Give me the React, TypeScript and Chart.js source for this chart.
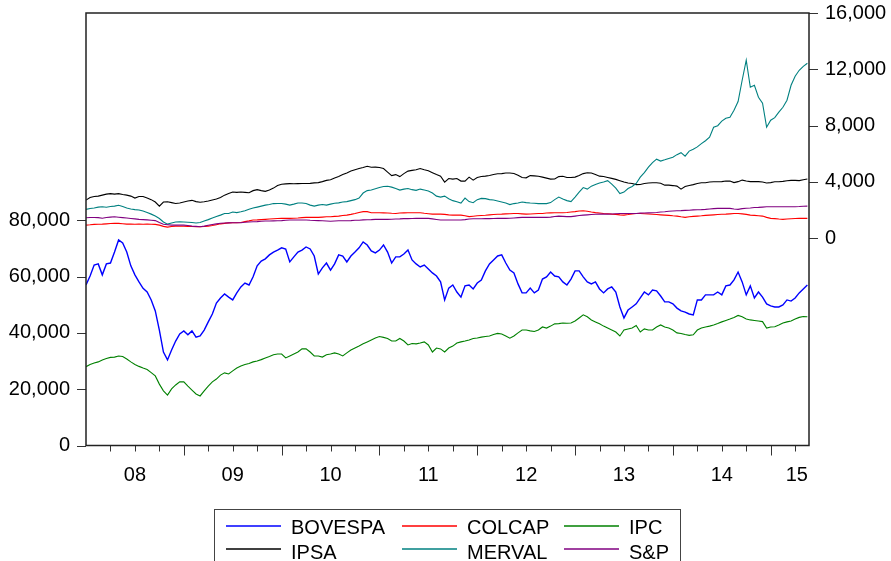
import React, { useEffect, useRef } from 'react';
import { Chart, registerables } from 'chart.js';

Chart.register(...registerables);

const FONT = "'Liberation Sans', Arial, Helvetica, sans-serif";

// Semi-monthly observation grid, expressed in months since January 2008
const periods: number[] = Array.from({ length: 178 }, (_, k) => k / 2);

// Year labels on the time axis and the month at which each one is centred
const yearLabels = ['08', '09', '10', '11', '12', '13', '14', '15'];
const yearLabelMonths = [6, 18, 30, 42, 54, 66, 78, 87.2];

const leftTicks = [0, 20000, 40000, 60000, 80000];
const rightTicks = [0, 4000, 8000, 12000, 16000];

// Left axis series
const bovespa = [
  57000, 60200, 64100, 64500, 60600, 64500, 64800, 68700, 73000, 71900,
  68700, 63800, 60600, 58100, 55800, 54500, 51700, 47800, 41000, 33200,
  30400, 33900, 37100, 39600, 40700, 39300, 40700, 38500, 38900, 41000,
  43900, 46700, 50600, 52400, 53800, 52700, 51700, 54200, 56300, 57700,
  57000, 59900, 63800, 65500, 66300, 67700, 68700, 69400, 70200, 69800,
  65200, 67000, 68700, 69400, 70500, 69800, 67300, 60900, 63100, 64800,
  62300, 64500, 67700, 67300, 65200, 67300, 68700, 70200, 72300, 71200,
  69100, 68400, 69400, 71200, 68700, 64800, 67000, 67000, 68000, 69400,
  65900, 64500, 63400, 64100, 62700, 61300, 60200, 58100, 51700, 55900,
  57000, 54500, 52700, 56700, 57000, 55600, 57700, 58800, 62000, 64500,
  65900, 67300, 67700, 64800, 62300, 61300, 57400, 54200, 54200, 55900,
  54200, 55200, 59100, 59900, 61600, 60200, 59900, 58100, 57000, 59100,
  62000, 62000, 59900, 58100, 57400, 58100, 55600, 54200, 55600, 56300,
  54500, 49200, 45300, 48100, 49200, 50300, 52400, 54500, 53500, 55200,
  54900, 53100, 51000, 51000, 50300, 48800, 47800, 47400, 46700, 46400,
  51700, 51700, 53500, 53500, 53500, 54500, 53500, 56700, 57000, 58800,
  61600, 58100, 53500, 56700, 52400, 54500, 52700, 50300, 49600, 49200,
  49200, 49900, 51700, 51300, 52400, 54200, 55600, 57000,
];

const ipc = [
  28000, 28800, 29300, 29700, 30400, 30900, 31300, 31400, 31800, 31600,
  30700, 29700, 28800, 28100, 27500, 27000, 25900, 24700, 21800, 19400,
  17900, 20100, 21500, 22600, 22600, 21100, 19700, 18300, 17600, 19400,
  21100, 22600, 23600, 25000, 25800, 25400, 26500, 27500, 28200, 28800,
  29100, 29700, 30000, 30500, 31100, 31600, 32200, 32500, 32500, 31100,
  31800, 32500, 33200, 34300, 34300, 33200, 31800, 31800, 31400, 32200,
  32500, 32900, 32500, 31800, 32900, 33900, 34600, 35300, 36100, 36800,
  37500, 38200, 38700, 38400, 38000, 37100, 37100, 38000, 37100, 35700,
  36200, 36100, 36400, 36800, 35700, 33200, 34600, 34300, 33200, 34600,
  35300, 36400, 36800, 37100, 37500, 38000, 38200, 38500, 38700, 38900,
  39400, 39800, 39600, 38900, 38100, 38900, 40000, 41000, 41000, 40700,
  40500, 41000, 42100, 41700, 42400, 43200, 43300, 43500, 43400, 43500,
  44200, 45300, 46400, 45700, 44600, 43900, 43200, 42400, 41700, 41000,
  40300, 38900, 41000, 41400, 41700, 42600, 40300, 41400, 41000, 41000,
  42100, 42800, 42100, 41700, 41000, 40000, 39800, 39400, 39100, 39300,
  41000, 41700, 42100, 42400, 42800, 43300, 43900, 44400, 44900, 45500,
  46200, 45700, 44900, 44600, 44400, 44200, 44000, 41700, 42100, 42200,
  42800, 43500, 43900, 44200, 44900, 45500, 45800, 45700,
];

// Right axis series
const colcap = [
  920, 940, 970, 980, 990, 1010, 1030, 1040, 1040, 1020,
  990, 990, 980, 990, 980, 990, 980, 970, 920, 830,
  780, 820, 850, 840, 840, 830, 820, 810, 800, 820,
  850, 890, 950, 1010, 1040, 1080, 1090, 1090, 1110, 1170,
  1220, 1280, 1290, 1310, 1330, 1350, 1370, 1390, 1400, 1400,
  1400, 1410, 1420, 1450, 1470, 1470, 1470, 1470, 1490, 1510,
  1510, 1540, 1560, 1600, 1630, 1680, 1740, 1810, 1880, 1880,
  1800, 1800, 1800, 1790, 1780, 1760, 1750, 1780, 1790, 1800,
  1800, 1800, 1800, 1760, 1730, 1700, 1700, 1700, 1680, 1650,
  1630, 1630, 1630, 1580, 1520, 1550, 1580, 1600, 1620, 1650,
  1670, 1690, 1700, 1720, 1730, 1750, 1740, 1720, 1700, 1710,
  1730, 1750, 1750, 1780, 1790, 1800, 1800, 1800, 1820, 1850,
  1880, 1920, 1940, 1900, 1850, 1810, 1780, 1750, 1730, 1700,
  1680, 1650, 1630, 1670, 1720, 1750, 1740, 1730, 1710, 1690,
  1670, 1650, 1630, 1610, 1580, 1560, 1510, 1470, 1510, 1540,
  1560, 1580, 1610, 1630, 1650, 1670, 1690, 1700, 1720, 1740,
  1750, 1720, 1680, 1630, 1610, 1590, 1560, 1470, 1400, 1380,
  1350, 1330, 1350, 1370, 1390, 1400, 1400, 1400,
];

const ipsa = [
  2700, 2880, 2950, 2980, 3050, 3120, 3160, 3120, 3160, 3090,
  3050, 2980, 2840, 2950, 2950, 2840, 2730, 2560, 2270, 2560,
  2580, 2520, 2460, 2490, 2560, 2630, 2680, 2590, 2540, 2580,
  2630, 2700, 2770, 2880, 3050, 3170, 3270, 3250, 3270, 3250,
  3220, 3370, 3440, 3370, 3320, 3410, 3550, 3730, 3830, 3850,
  3870, 3860, 3870, 3880, 3880, 3890, 3920, 3940, 4010, 4100,
  4150, 4270, 4370, 4510, 4630, 4760, 4860, 4950, 5010, 5100,
  5030, 5040, 5010, 4940, 4690, 4440, 4510, 4370, 4580, 4760,
  4810, 4860, 4940, 4860, 4790, 4650, 4510, 4400, 3980, 4230,
  4190, 4230, 4050, 4050, 4330, 4120, 4300, 4370, 4400, 4450,
  4520, 4570, 4580, 4620, 4620, 4590, 4470, 4300, 4280, 4440,
  4420, 4390, 4330, 4260, 4190, 4200, 4370, 4390, 4300, 4300,
  4330, 4440, 4580, 4640, 4620, 4510, 4400, 4370, 4310, 4240,
  4170, 4080, 3980, 3910, 3880, 3800, 3810, 3880, 3910, 3930,
  3930, 3890, 3760, 3760, 3730, 3690, 3480, 3660, 3730, 3800,
  3880, 3930, 3930, 3980, 4000, 4000, 4010, 4050, 4060, 3940,
  4010, 4120, 4050, 4010, 4010, 4010, 3980, 3910, 3940, 4000,
  4000, 4030, 4070, 4100, 4100, 4080, 4150, 4200,
];

const merval = [
  2040, 2100, 2140, 2200, 2220, 2190, 2240, 2270, 2330, 2240,
  2130, 2070, 2020, 1990, 1920, 1810, 1700, 1560, 1390, 1140,
  990, 1070, 1140, 1160, 1140, 1120, 1100, 1070, 1100, 1210,
  1310, 1420, 1530, 1630, 1740, 1750, 1850, 1810, 1870, 1940,
  2050, 2130, 2200, 2270, 2340, 2390, 2450, 2460, 2460, 2410,
  2340, 2410, 2490, 2490, 2460, 2340, 2270, 2340, 2380, 2340,
  2410, 2470, 2500, 2560, 2590, 2660, 2730, 2840, 3200, 3370,
  3410, 3500, 3590, 3660, 3680, 3620, 3520, 3410, 3480, 3520,
  3440, 3390, 3480, 3410, 3340, 3200, 2980, 2910, 2980, 2800,
  2660, 2580, 2490, 2840, 2590, 2510, 2730, 2820, 2800, 2730,
  2700, 2630, 2560, 2490, 2380, 2450, 2490, 2560, 2520, 2490,
  2470, 2450, 2450, 2450, 2520, 2730, 2910, 2770, 2660, 2590,
  2910, 3270, 3590, 3480, 3690, 3800, 3910, 3980, 4080, 3830,
  3550, 3160, 3270, 3520, 3670, 3880, 4330, 4650, 5040, 5360,
  5610, 5470, 5560, 5660, 5750, 5930, 6070, 5820, 6180, 6320,
  6480, 6710, 6920, 7170, 7880, 7990, 8310, 8520, 8590, 9090,
  9700, 11220, 12640, 10720, 10860, 10010, 9590, 7880, 8380, 8560,
  8950, 9300, 9800, 10860, 11500, 11930, 12210, 12430,
];

const sp = [
  1440, 1460, 1460, 1450, 1410, 1460, 1490, 1510, 1480, 1450,
  1420, 1390, 1360, 1330, 1310, 1290, 1270, 1240, 1100, 980,
  950, 920, 920, 920, 920, 890, 850, 830, 800, 850,
  910, 960, 1010, 1050, 1070, 1080, 1090, 1090, 1090, 1120,
  1140, 1160, 1170, 1190, 1210, 1210, 1220, 1230, 1240, 1260,
  1280, 1280, 1280, 1280, 1280, 1260, 1250, 1240, 1230, 1210,
  1190, 1210, 1230, 1230, 1230, 1240, 1260, 1270, 1290, 1300,
  1310, 1330, 1330, 1330, 1330, 1340, 1350, 1360, 1380, 1380,
  1390, 1400, 1400, 1400, 1400, 1360, 1320, 1280, 1280, 1280,
  1280, 1280, 1280, 1310, 1350, 1370, 1370, 1370, 1380, 1380,
  1390, 1400, 1400, 1400, 1410, 1430, 1450, 1470, 1470, 1470,
  1470, 1470, 1470, 1470, 1490, 1530, 1560, 1540, 1520, 1520,
  1560, 1600, 1630, 1650, 1670, 1690, 1700, 1700, 1700, 1710,
  1730, 1740, 1750, 1750, 1750, 1750, 1770, 1780, 1790, 1800,
  1820, 1850, 1870, 1900, 1920, 1940, 1950, 1970, 1980, 2000,
  2010, 2020, 2040, 2070, 2090, 2110, 2110, 2110, 2110, 2070,
  2040, 2090, 2120, 2140, 2170, 2180, 2200, 2220, 2220, 2220,
  2220, 2220, 2220, 2220, 2230, 2240, 2260, 2270,
];

const seriesNames = ['BOVESPA', 'COLCAP', 'IPC', 'IPSA', 'MERVAL', 'S&P'];
const seriesColors = ['#0000ff', '#ff0000', '#008000', '#000000', '#008080', '#800080'];
const seriesValues = [bovespa, colcap, ipc, ipsa, merval, sp];
const seriesAxis = ['y', 'y1', 'y', 'y1', 'y1', 'y1'];

const fmt = (v: number) => v.toLocaleString('en-US');

// Outer frame, tick marks and the boxed legend under the plot
const frameAndLegend = {
  id: 'frameAndLegend',
  afterDraw(chart: any) {
    const { ctx, chartArea: a, scales } = chart;
    const xs = scales.x;
    const yl = scales.y;
    const yr = scales.y1;
    ctx.save();

    ctx.strokeStyle = '#333';
    ctx.lineWidth = 1;
    ctx.beginPath();
    for (let m = 3; m < xs.max; m += 3) {
      const px = Math.round(xs.getPixelForValue(m)) + 0.5;
      const len = m % 12 === 0 ? 10 : 6;
      ctx.moveTo(px, a.bottom);
      ctx.lineTo(px, a.bottom + len);
    }
    leftTicks.forEach((v) => {
      const py = Math.round(yl.getPixelForValue(v)) + 0.5;
      ctx.moveTo(a.left - 9, py);
      ctx.lineTo(a.left, py);
    });
    rightTicks.forEach((v) => {
      const py = Math.round(yr.getPixelForValue(v)) + 0.5;
      ctx.moveTo(a.right, py);
      ctx.lineTo(a.right + 9, py);
    });
    ctx.stroke();

    ctx.strokeStyle = '#222';
    ctx.lineWidth = 1.5;
    ctx.strokeRect(a.left, a.top, a.right - a.left, a.bottom - a.top);

    // legend box, centred under the plot
    const boxLeft = 214.5;
    const boxTop = 509.5;
    const boxRight = a.left + a.right - boxLeft;
    ctx.strokeStyle = '#444';
    ctx.lineWidth = 1;
    ctx.strokeRect(boxLeft, boxTop, boxRight - boxLeft, 80);

    const colX = [226, 402, 564];
    const lineY = [526, 549];
    const baseY = [533.5, 558.5];
    ctx.font = `20px ${FONT}`;
    ctx.textBaseline = 'alphabetic';
    ctx.textAlign = 'left';
    seriesNames.forEach((name, i) => {
      const col = i % 3;
      const row = Math.floor(i / 3);
      const x0 = colX[col];
      ctx.strokeStyle = seriesColors[i];
      ctx.lineWidth = 1.3;
      ctx.beginPath();
      ctx.moveTo(x0, lineY[row]);
      ctx.lineTo(x0 + 55, lineY[row]);
      ctx.stroke();
      ctx.fillStyle = '#000';
      ctx.fillText(name, x0 + 65, baseY[row]);
    });

    ctx.restore();
  },
};

// Keep tick-label overflow from pushing the plot edges inwards
const noLabelOverflow = (s: any) => {
  s.paddingTop = 0;
  s.paddingBottom = 0;
  s.paddingLeft = 0;
  s.paddingRight = 0;
};

export default function App() {
  const canvasRef = useRef<HTMLCanvasElement | null>(null);

  useEffect(() => {
    const canvas = canvasRef.current;
    if (!canvas) return;

    const datasets = seriesNames.map((name, i) => ({
      label: name,
      data: seriesValues[i].map((v, k) => ({ x: periods[k], y: v })),
      yAxisID: seriesAxis[i],
      borderColor: seriesColors[i],
      backgroundColor: seriesColors[i],
      borderWidth: i === 0 ? 1.4 : 1.1,
      pointRadius: 0,
      tension: 0,
      fill: false,
      order: seriesNames.length - 1 - i,
    }));

    const chart = new Chart(canvas, {
      type: 'line',
      data: { datasets },
      options: {
        responsive: false,
        maintainAspectRatio: false,
        devicePixelRatio: 1,
        animation: false,
        events: [],
        layout: { padding: { top: 13, left: 0, right: 0, bottom: 0 } },
        plugins: {
          legend: { display: false },
          tooltip: { enabled: false },
        },
        scales: {
          x: {
            type: 'linear',
            min: 0,
            max: 88.7,
            grid: { display: false, drawTicks: false },
            border: { display: false },
            afterBuildTicks: (s: any) => {
              s.ticks = yearLabelMonths.map((v) => ({ value: v }));
            },
            afterFit: (s: any) => {
              s.height = 115.5;
              noLabelOverflow(s);
            },
            ticks: {
              autoSkip: false,
              maxRotation: 0,
              padding: 18,
              color: '#000',
              font: { family: FONT, size: 20 },
              callback: (_v: any, i: number) => yearLabels[i],
            },
          },
          y: {
            type: 'linear',
            position: 'left',
            min: 0,
            max: 153600,
            grid: { display: false, drawTicks: false },
            border: { display: false },
            afterBuildTicks: (s: any) => {
              s.ticks = leftTicks.map((v) => ({ value: v }));
            },
            afterFit: (s: any) => {
              s.width = 86;
              noLabelOverflow(s);
            },
            ticks: {
              padding: 16,
              color: '#000',
              font: { family: FONT, size: 20 },
              callback: (v: any) => fmt(Number(v)),
            },
          },
          y1: {
            type: 'linear',
            position: 'right',
            min: -14750,
            max: 16000,
            grid: { display: false, drawTicks: false },
            border: { display: false },
            afterBuildTicks: (s: any) => {
              s.ticks = rightTicks.map((v) => ({ value: v }));
            },
            afterFit: (s: any) => {
              s.width = 82;
              noLabelOverflow(s);
            },
            ticks: {
              padding: 16,
              color: '#000',
              font: { family: FONT, size: 20 },
              callback: (v: any) => fmt(Number(v)),
            },
          },
        },
      },
      plugins: [frameAndLegend],
    } as any);

    return () => chart.destroy();
  }, []);

  return (
    <div style={{ position: 'fixed', left: 0, top: 0, width: 891, height: 561, background: '#fff' }}>
      <canvas ref={canvasRef} width={891} height={561} style={{ display: 'block' }} />
    </div>
  );
}
